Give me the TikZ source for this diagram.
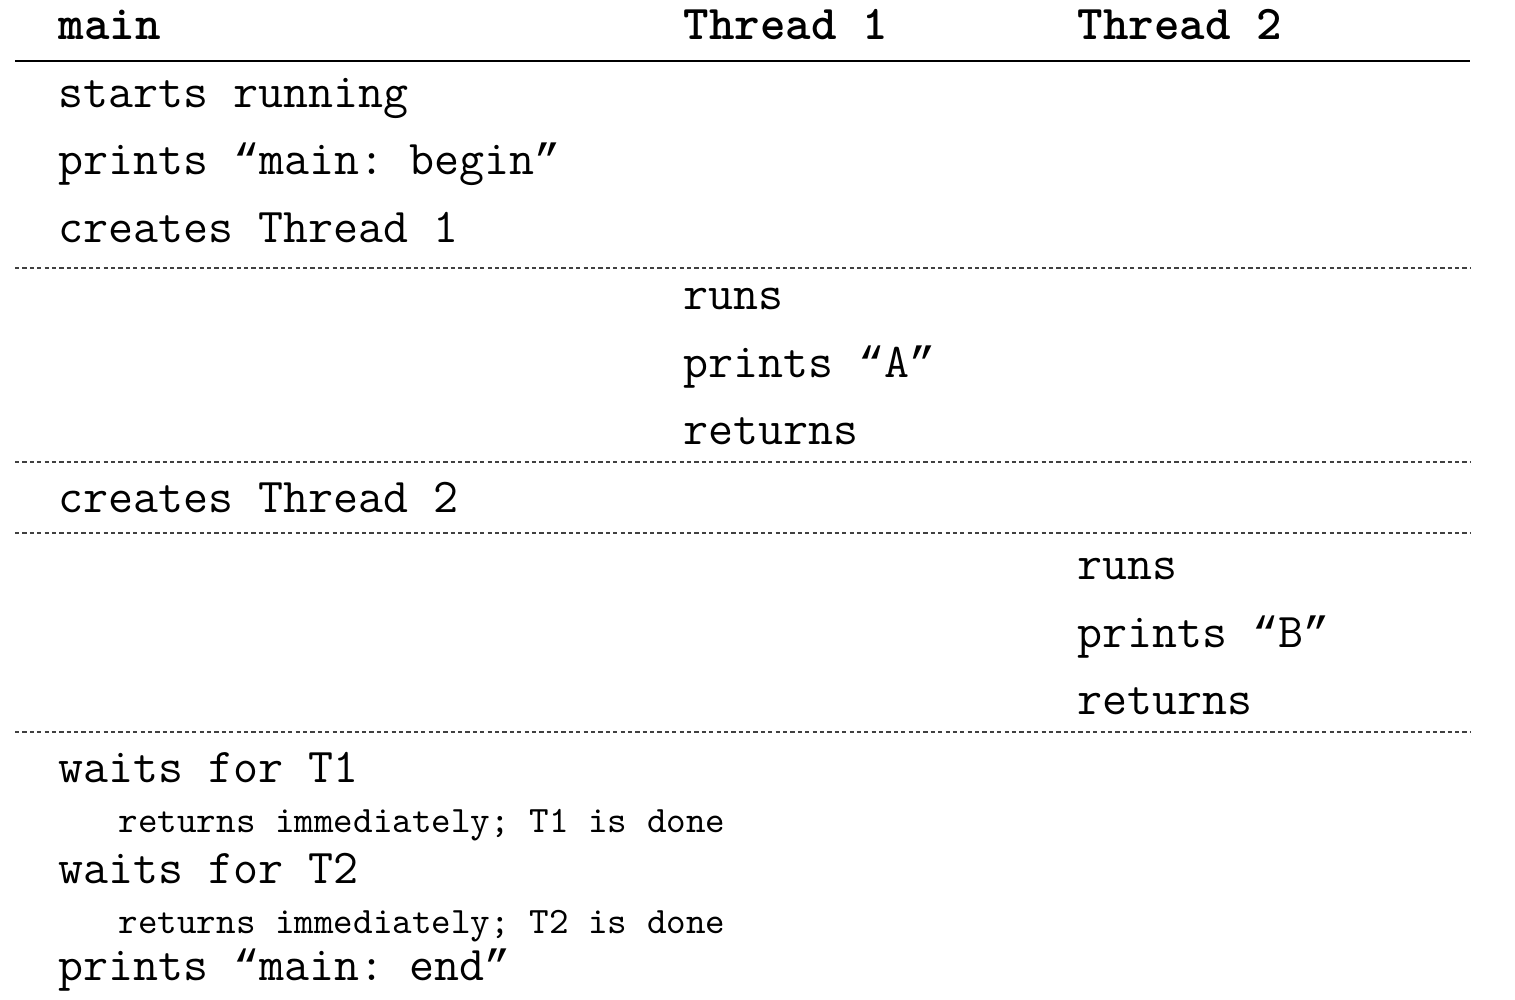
\documentclass[tikz,border=0pt]{standalone}
\usepackage{fontspec}
\usepackage{tikz}
\newfontfamily\quotefont[Scale=0.9]{Liberation Mono}
\newcommand{\qopen}{{\quotefont “}}
\newcommand{\qclose}{{\quotefont ”}}
\frenchspacing
\tikzset{
  head/.style={font=\ttfamily\bfseries\fontsize{13.8}{16}\selectfont, anchor=base west, inner sep=0pt},
  act/.style={font=\ttfamily\fontsize{13.8}{16}\selectfont, anchor=base west, inner sep=0pt},
  note/.style={font=\ttfamily\fontsize{10.6}{12}\selectfont, anchor=base west, inner sep=0pt},
  sep/.style={draw, line width=0.3pt, dash pattern=on 1.2pt off 0.9pt, black!75}
}
\begin{document}
\begin{tikzpicture}[x=0.01cm, y=-0.01cm]
  \useasboundingbox (0,0) rectangle (1515,1000);
  % Kopfzeile
  \node[head] (mainhd) at (58,40) {main};
  \node[head] (tonehd) at (683,40) {Thread 1};
  \node[head] (ttwohd) at (1077,40) {Thread 2};
  \draw[line width=0.6pt] (15,61) -- (1470,61);
  % Trennlinien
  \foreach \y in {268,462,533,732}
    \draw[sep] (15,\y) -- (1470,\y);
  % main
  \node[act] (mstart)  at (58,107)   {starts running};
  \node[act] (mbegin)  at (58,174.5) {prints \qopen main: begin\qclose};
  \node[act] (mcrone)  at (58,242)   {creates Thread 1};
  \node[act] (mcrtwo)  at (58,512)   {creates Thread 2};
  \node[act] (mwone)   at (58,782)   {waits for T1};
  \node[note] (mrone)  at (118,832)  {returns immediately; T1 is done};
  \node[act] (mwtwo)   at (58,883)   {waits for T2};
  \node[note] (mrtwo)  at (118,933)  {returns immediately; T2 is done};
  \node[act] (mend)    at (58,980)   {prints \qopen main: end\qclose};
  % Thread 1
  \node[act] (toruns)  at (683,309.5) {runs};
  \node[act] (toprint) at (683,377)   {prints \qopen A\qclose};
  \node[act] (toret)   at (683,444.5) {returns};
  % Thread 2
  \node[act] (ttruns)  at (1077,579.5) {runs};
  \node[act] (ttprint) at (1077,647)   {prints \qopen B\qclose};
  \node[act] (ttret)   at (1077,714.5) {returns};
\end{tikzpicture}
\end{document}
